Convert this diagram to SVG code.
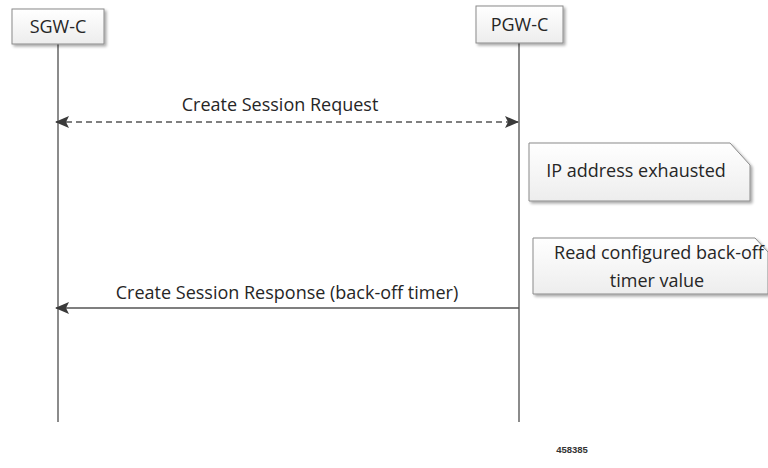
<svg xmlns="http://www.w3.org/2000/svg" width="768" height="468" viewBox="0 0 768 468">
<style>
.t{font-family:"Open Sans","Liberation Sans",sans-serif;font-size:18px;fill:#262626}
.life{stroke:#6e6e6e;stroke-width:1.6;fill:none}
.box{fill:url(#g);stroke:#8a8a8a;stroke-width:1;filter:url(#sh)}
.msg{stroke:#555555;stroke-width:1.6;fill:none}
</style>
<defs>
<linearGradient id="g" x1="0" y1="0" x2="0" y2="1">
<stop offset="0" stop-color="#ffffff"/>
<stop offset="1" stop-color="#ededed"/>
</linearGradient>
<filter id="sh" x="-10%" y="-10%" width="130%" height="140%">
<feGaussianBlur in="SourceAlpha" stdDeviation="1.5"/>
<feOffset dx="2" dy="2" result="b"/>
<feComponentTransfer><feFuncA type="linear" slope="0.35"/></feComponentTransfer>
<feMerge><feMergeNode/><feMergeNode in="SourceGraphic"/></feMerge>
</filter>
<marker id="ah" viewBox="0 0 14 12" refX="13" refY="6" markerWidth="14" markerHeight="12" markerUnits="userSpaceOnUse" orient="auto-start-reverse">
<path d="M0,0 L14,6 L0,12 L3,6 Z" fill="#3a3a3a"/>
</marker>
</defs>
<rect width="768" height="468" fill="#ffffff"/>
<g id="sgw">
<line class="life" x1="58" y1="44" x2="58" y2="422"/>
<rect class="box" x="12" y="9" width="92" height="35"/>
<text class="t" x="58" y="33" text-anchor="middle">SGW-C</text>
</g>
<g id="pgw">
<line class="life" x1="519" y1="43" x2="519" y2="422"/>
<rect class="box" x="476" y="6" width="87" height="37"/>
<text class="t" x="519.5" y="31" text-anchor="middle">PGW-C</text>
</g>
<g id="note1">
<path class="box" d="M529,143 H730 L750,165 V201 H529 Z"/>
<text class="t" x="636" y="177" text-anchor="middle">IP address exhausted</text>
</g>
<g id="note2">
<path class="box" d="M533,238 H755 L768,252 V294 H533 Z"/>
<text class="t" x="659" y="259" text-anchor="middle">Read configured back-off</text>
<text class="t" x="657" y="287" text-anchor="middle">timer value</text>
</g>
<g id="connectors">
<line class="msg" x1="56" y1="122" x2="518" y2="122" stroke-dasharray="6,4" marker-start="url(#ah)" marker-end="url(#ah)"/>
<line class="msg" x1="519" y1="308" x2="56" y2="308" marker-end="url(#ah)"/>
</g>
<g id="labels">
<text class="t" x="280" y="111" text-anchor="middle">Create Session Request</text>
<text class="t" x="287" y="299" text-anchor="middle">Create Session Response (back-off timer)</text>
<text x="572" y="453" text-anchor="middle" style="font-family:'Liberation Sans',sans-serif;font-size:9.5px;font-weight:bold;fill:#333">458385</text>
</g>
</svg>
